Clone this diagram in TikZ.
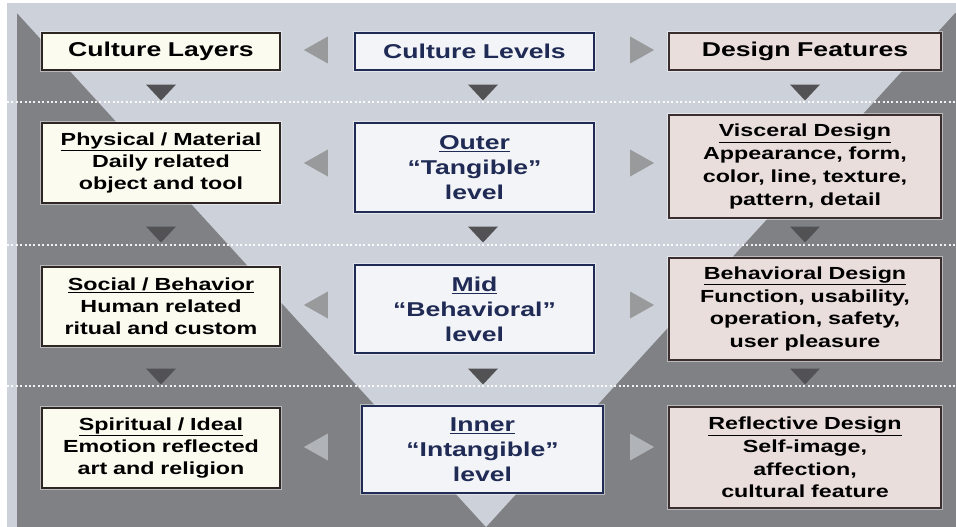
\documentclass[tikz,border=0pt]{standalone}
\usepackage{fontspec}
\setmainfont{Liberation Sans}[FakeStretch=1.33]
\usepackage{xcolor}
\usetikzlibrary{positioning,shapes.geometric}
\definecolor{lightbg}{HTML}{CDD1D9}
\definecolor{darkbg}{HTML}{808184}
\definecolor{layerfill}{HTML}{FBFBEF}
\definecolor{layerline}{HTML}{2E2622}
\definecolor{levelfill}{HTML}{F3F4F7}
\definecolor{levelline}{HTML}{1F2A55}
\definecolor{designfill}{HTML}{E9DEDC}
\definecolor{designline}{HTML}{3A2E2E}
\definecolor{sidegray}{HTML}{999A9C}
\definecolor{downgray}{HTML}{525254}
\tikzset{
	x=1pt, y=-1pt,
	box/.style={draw, line width=1.4pt, align=center, inner sep=0pt,
		preaction={draw=white, line width=3.5pt, opacity=0.45},
		font=\bfseries\fontsize{17.5}{22}\selectfont},
	head/.style={font=\bfseries\fontsize{20}{24}\selectfont},
	layer/.style={box, fill=layerfill, draw=layerline, minimum width=238, text width=230},
	level/.style={box, fill=levelfill, draw=levelline, text=levelline, minimum width=239, text width=230,
		font=\bfseries\fontsize{20}{25}\selectfont},
	design/.style={box, fill=designfill, draw=designline, minimum width=272, text width=262,
		font=\bfseries\fontsize{17.5}{22.7}\selectfont},
	tri/.style={isosceles triangle, isosceles triangle stretches, inner sep=0pt, draw=none},
	lefttri/.style={tri, shape border rotate=180, fill=sidegray, minimum width=27, minimum height=24},
	righttri/.style={tri, shape border rotate=0, fill=sidegray, minimum width=27, minimum height=24},
	downtri/.style={tri, shape border rotate=270, fill=downgray, minimum width=30, minimum height=16},
	faded/.style={fill=sidegray!55!lightbg},
	sep/.style={white, line width=2pt, dash pattern=on 2pt off 2.4pt, opacity=0.9},
}
\begin{document}
\begin{tikzpicture}
	\useasboundingbox (0,0) rectangle (956,527);
	% background and funnel
	\fill[white] (0,0) rectangle (956,527);
	\fill[lightbg] (7,3) rectangle (956,527);
	\fill[darkbg] (17,13) rectangle (956,527);
	\fill[lightbg] (17,13) -- (955,13) -- (486,527) -- cycle;
	\foreach \y in {102,245,386}
		\draw[sep] (7,\y) -- (956,\y);

	% culture layers
	\node[layer, head, minimum height=37] (l1) at (161,51.5) {Culture Layers};
	\node[layer, minimum height=80] (l2) at (161,163) {\underline{Physical / Material}\\Daily related\\object and tool};
	\node[layer, minimum height=79] (l3) at (161,306.5) {\underline{Social / Behavior}\\Human related\\ritual and custom};
	\node[layer, minimum height=80] (l4) at (161,448) {\underline{Spiritual / Ideal}\\Emotion reflected\\art and religion};

	% culture levels
	\node[level, head, minimum height=37] (c1) at (474.5,51.5) {Culture Levels};
	\node[level, minimum height=89] (c2) at (474.5,167.5) {\underline{Outer}\\``Tangible''\\level};
	\node[level, minimum height=88] (c3) at (474.5,309) {\underline{Mid}\\``Behavioral''\\level};
	\node[level, minimum height=87, minimum width=241] (c4) at (482.5,449.5) {\underline{Inner}\\``Intangible''\\level};

	% design features
	\node[design, head, minimum height=37] (d1) at (805,51.5) {Design Features};
	\node[design, minimum height=103] (d2) at (805,166.5) {\underline{Visceral Design}\\Appearance, form,\\color, line, texture,\\pattern, detail};
	\node[design, minimum height=102] (d3) at (805,309) {\underline{Behavioral Design}\\Function, usability,\\operation, safety,\\user pleasure};
	\node[design, minimum height=101] (d4) at (805,457.5) {\underline{Reflective Design}\\Self-image,\\affection,\\cultural feature};

	% side arrows
	\foreach \n/\y in {1/50,2/163,3/305} {
		\node[lefttri] (tl\n) at (320,\y) {};
		\node[righttri] (tr\n) at (638,\y) {};
	}
	\node[lefttri, faded] (tl4) at (320,447) {};
	\node[righttri, faded] (tr4) at (638,447) {};

	% down arrows
	\foreach \n/\y in {1/91,2/233,3/375} {
		\node[downtri] (al\n) at (161,\y) {};
		\node[downtri] (ac\n) at (483,\y) {};
		\node[downtri] (ad\n) at (805,\y) {};
	}
\end{tikzpicture}
\end{document}
